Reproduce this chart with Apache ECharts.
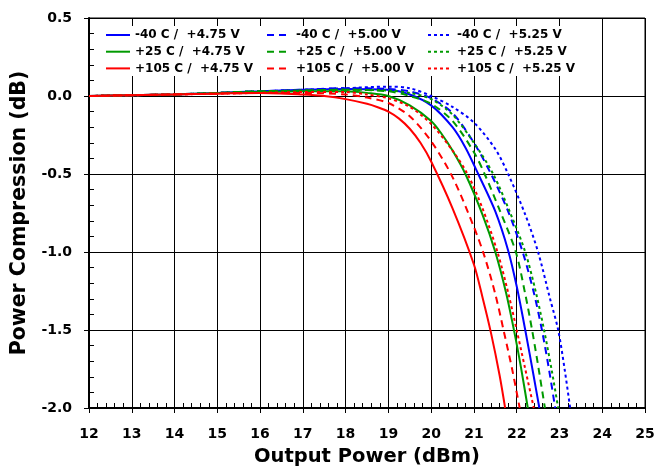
<!DOCTYPE html>
<html><head><meta charset="utf-8">
<script src="https://cdn.jsdelivr.net/npm/echarts@6/dist/echarts.min.js"></script>
<style>html,body{margin:0;padding:0;background:#fff}#c{width:657px;height:467px}</style>
</head><body><div id="c"></div>
<script>
// Output Power (dBm) / Power Compression (dB) pairs
const b475 = [[12,0],[13,0.005],[14,0.01],[15,0.02],[16,0.03],[17,0.04],[18,0.045],[19,0.04],[19.5,0.01],[20,-0.06],[20.5,-0.2],[20.8,-0.33],[21.1,-0.5],[21.5,-0.74],[21.8,-0.99],[22.0,-1.22],[22.2,-1.5],[22.4,-1.8],[22.53,-2.0]];
const b500 = [[12,0],[13,0.005],[14,0.01],[15,0.02],[16,0.03],[17,0.04],[18,0.05],[19,0.045],[19.5,0.03],[20,-0.015],[20.5,-0.11],[21,-0.3],[21.4,-0.5],[21.8,-0.74],[22.14,-1.0],[22.4,-1.26],[22.59,-1.5],[22.76,-1.76],[22.9,-2.0]];
const b525 = [[12,0],[13,0.005],[14,0.01],[15,0.02],[16,0.03],[17,0.04],[18,0.05],[19,0.06],[19.5,0.05],[20,0.0],[20.5,-0.07],[21,-0.17],[21.5,-0.34],[21.8,-0.5],[22.2,-0.76],[22.5,-1.0],[22.78,-1.3],[22.97,-1.5],[23.12,-1.75],[23.25,-2.0]];
const g475 = [[12,0],[13,0.005],[14,0.01],[15,0.018],[16,0.025],[17,0.03],[18,0.03],[18.5,0.02],[19,0.0],[19.5,-0.06],[20,-0.16],[20.25,-0.245],[20.5,-0.35],[20.8,-0.5],[21.2,-0.76],[21.5,-1.0],[21.75,-1.26],[21.95,-1.52],[22.1,-1.74],[22.26,-2.0]];
const g500 = [[12,0],[13,0.005],[14,0.01],[15,0.02],[16,0.03],[17,0.035],[18,0.04],[19,0.03],[19.5,0.0],[20,-0.05],[20.5,-0.16],[21,-0.36],[21.25,-0.5],[21.6,-0.73],[21.98,-1.0],[22.2,-1.27],[22.36,-1.5],[22.52,-1.76],[22.66,-2.0]];
const g525 = [[12,0],[13,0.005],[14,0.01],[15,0.02],[16,0.03],[17,0.035],[18,0.04],[19,0.035],[19.5,0.02],[20,-0.02],[20.5,-0.12],[21,-0.3],[21.45,-0.5],[21.85,-0.75],[22.2,-1.0],[22.45,-1.26],[22.64,-1.5],[22.82,-1.76],[22.97,-2.0]];
const r475 = [[12,0],[13,0.005],[14,0.01],[15,0.015],[16,0.02],[17,0.01],[17.5,0],[18,-0.02],[18.5,-0.05],[18.75,-0.072],[19,-0.1],[19.25,-0.145],[19.5,-0.21],[19.75,-0.3],[20,-0.42],[20.5,-0.72],[21,-1.08],[21.2,-1.29],[21.4,-1.52],[21.6,-1.79],[21.73,-2.0]];
const r500 = [[12,0],[13,0.005],[14,0.01],[15,0.015],[16,0.02],[17,0.02],[18,0.01],[18.5,-0.01],[19,-0.045],[19.5,-0.13],[20,-0.29],[20.5,-0.52],[21,-0.84],[21.25,-1.03],[21.5,-1.27],[21.7,-1.51],[21.9,-1.76],[22.07,-2.0]];
const r525 = [[12,0],[13,0.005],[14,0.01],[15,0.015],[16,0.02],[17,0.025],[18,0.025],[18.5,0.01],[19,-0.015],[19.5,-0.07],[20,-0.18],[20.5,-0.35],[20.85,-0.5],[21.2,-0.72],[21.55,-1.0],[21.8,-1.26],[22.0,-1.5],[22.2,-1.75],[22.4,-2.0]];

const names = {
  b475: '-40 C /  +4.75 V', b500: '-40 C /  +5.00 V', b525: '-40 C /  +5.25 V',
  g475: '+25 C /  +4.75 V', g500: '+25 C /  +5.00 V', g525: '+25 C /  +5.25 V',
  r475: '+105 C /  +4.75 V', r500: '+105 C /  +5.00 V', r525: '+105 C /  +5.25 V'
};
const xTitle = 'Output Power (dBm)';
const yTitle = 'Power Compression (dB)';

const BLUE = '#0000ff', GREEN = '#009a00', RED = '#ff0000';
const DASH = [7, 5], DOT = [3, 3];
const FONT = 'DejaVu Sans';

function line(name, data, color, type) {
  return {
    type: 'line', name: name, data: data, xAxisIndex: 0, yAxisIndex: 0,
    showSymbol: false, symbol: 'none', smooth: 0.3, silent: true,
    lineStyle: { color: color, width: 2, type: type, cap: 'butt' },
    itemStyle: { color: color }
  };
}

const series = [
  line(names.b475, b475, BLUE, 'solid'), line(names.b500, b500, BLUE, DASH), line(names.b525, b525, BLUE, DOT),
  line(names.g475, g475, GREEN, 'solid'), line(names.g500, g500, GREEN, DASH), line(names.g525, g525, GREEN, DOT),
  line(names.r475, r475, RED, 'solid'), line(names.r500, r500, RED, DASH), line(names.r525, r525, RED, DOT)
];

function legend(left, data) {
  return {
    orient: 'vertical', left: left, top: 29, padding: 0,
    itemWidth: 24, itemHeight: 12, itemGap: 4.7, itemTextGap: 2,
    selectedMode: false,
    itemStyle: { opacity: 0, borderWidth: 0 },
    lineStyle: { width: 2 },
    textStyle: { fontFamily: FONT, fontWeight: 'bold', fontSize: 12, color: '#000' },
    data: data
  };
}

const chart = echarts.init(document.getElementById('c'), null, { renderer: 'canvas' });
chart.setOption({
  animation: false,
  backgroundColor: '#fff',
  grid: { left: 89, right: 12, top: 18, bottom: 59, show: true, borderColor: '#000', borderWidth: 1, backgroundColor: 'transparent', outerBoundsMode: 'none', containLabel: false },
  graphic: [{ type: 'rect', left: 97, top: 26, shape: { width: 483, height: 50 }, style: { fill: '#fff' }, z: 3 }],
  legend: [
    legend(105, [names.b475, names.g475, names.r475]),
    legend(266, [names.b500, names.g500, names.r500]),
    legend(427, [names.b525, names.g525, names.r525])
  ],
  xAxis: [
    {
      type: 'value', position: 'bottom', min: 12, max: 25, interval: 1,
      name: xTitle, nameLocation: 'middle', nameGap: 39,
      nameTextStyle: { fontFamily: FONT, fontWeight: 'bold', fontSize: 19.5, color: '#000' },
      axisLine: { show: true, onZero: false, lineStyle: { color: '#000', width: 2 } },
      axisTick: { show: true, inside: false, length: 5, lineStyle: { color: '#000', width: 1 } },
      axisLabel: { margin: 19, fontFamily: FONT, fontWeight: 'bold', fontSize: 14, color: '#000' },
      splitLine: { show: true, lineStyle: { color: '#000', width: 1 } }
    },
    {
      type: 'value', position: 'bottom', offset: 0, min: 12, max: 25, interval: 1,
      axisLine: { show: false, onZero: false },
      axisTick: { show: true, inside: true, length: 5, lineStyle: { color: '#000', width: 1 } },
      minorTick: { show: true, splitNumber: 5, length: 5, lineStyle: { color: '#000', width: 1 } },
      axisLabel: { show: false }, splitLine: { show: false }
    }
  ],
  yAxis: [
    {
      type: 'value', position: 'left', min: -2, max: 0.5, interval: 0.5,
      name: yTitle, nameLocation: 'middle', nameGap: 57, nameRotate: 90,
      nameTextStyle: { fontFamily: FONT, fontWeight: 'bold', fontSize: 20.5, color: '#000' },
      axisLine: { show: true, onZero: false, lineStyle: { color: '#000', width: 2 } },
      axisTick: { show: true, inside: false, length: 5, lineStyle: { color: '#000', width: 1 } },
      axisLabel: { margin: 17, fontFamily: FONT, fontWeight: 'bold', fontSize: 14, color: '#000', formatter: v => v.toFixed(1) },
      splitLine: { show: true, lineStyle: { color: '#000', width: 1 } }
    },
    {
      type: 'value', position: 'left', offset: 0, min: -2, max: 0.5, interval: 0.5,
      axisLine: { show: false, onZero: false },
      axisTick: { show: true, inside: true, length: 5, lineStyle: { color: '#000', width: 1 } },
      minorTick: { show: true, splitNumber: 5, length: 5, lineStyle: { color: '#000', width: 1 } },
      axisLabel: { show: false }, splitLine: { show: false }
    }
  ],
  series: series
});
</script></body></html>
